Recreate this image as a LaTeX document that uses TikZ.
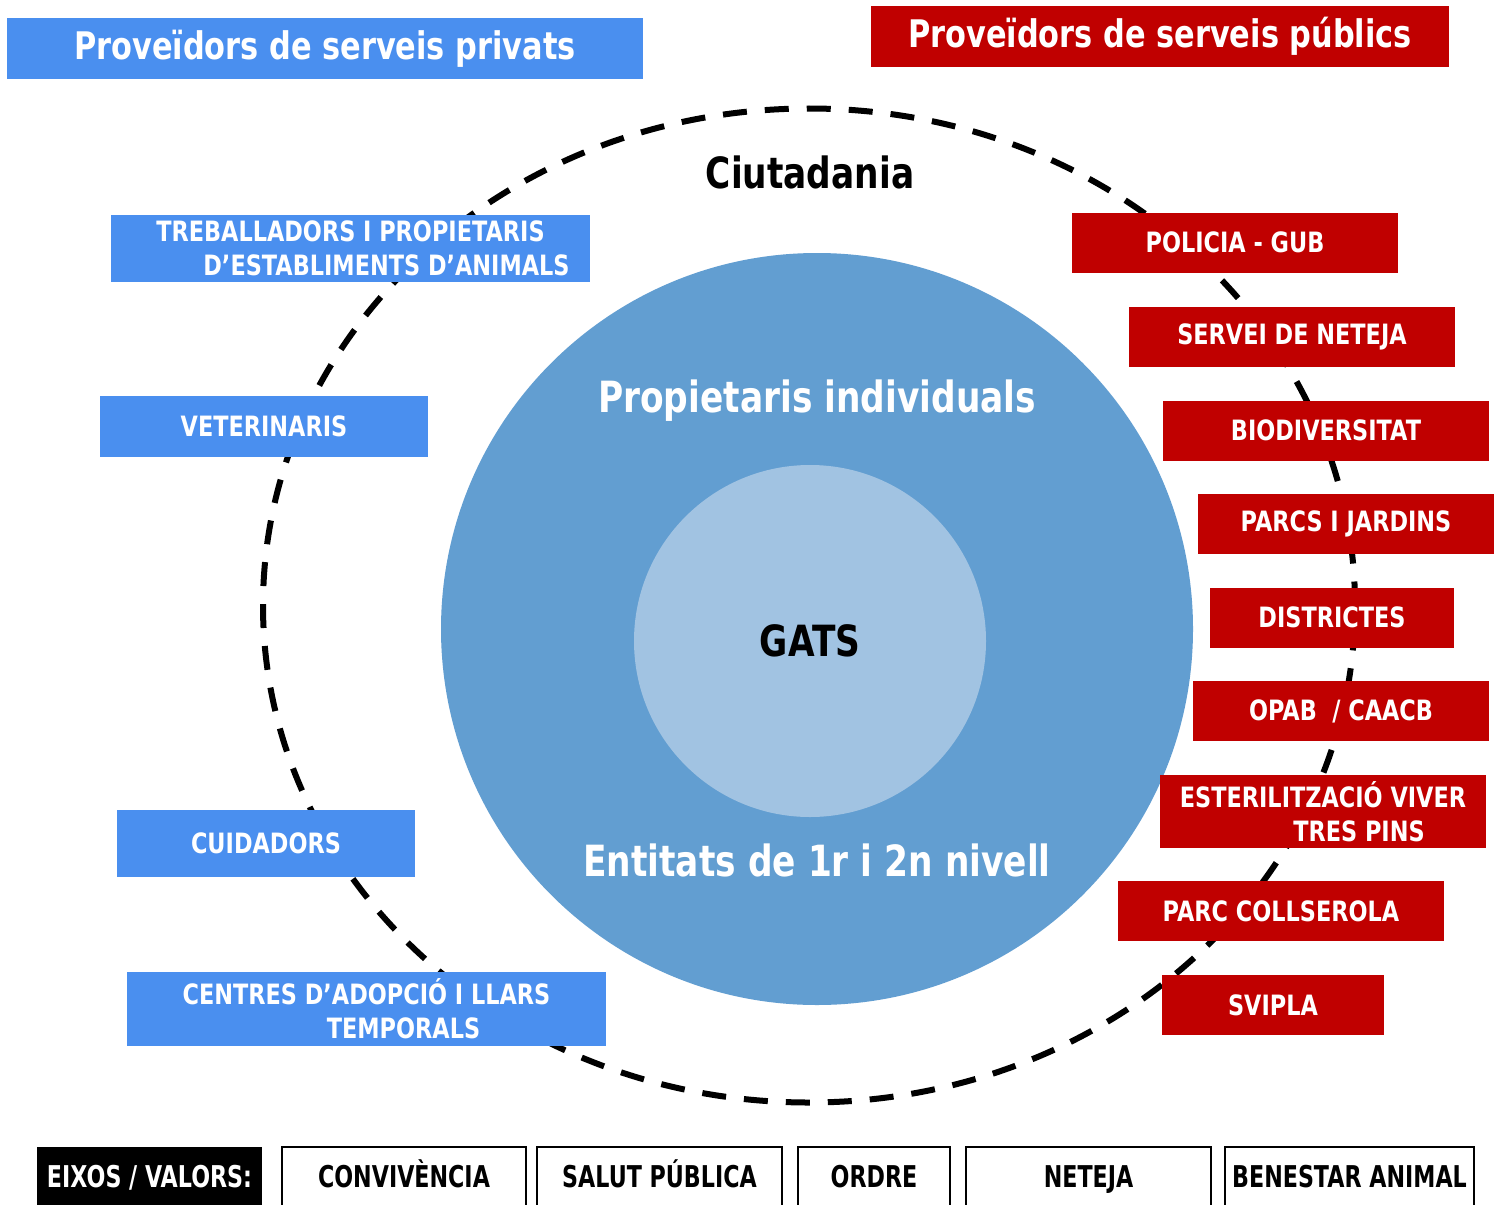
\documentclass[tikz,border=0pt]{standalone}
\usepackage{fontspec}
\setmainfont{DejaVu Sans}[FakeStretch=0.8]
\newfontfamily\axisfont{DejaVu Sans}[FakeStretch=0.74]
\definecolor{privblue}{RGB}{74,143,239}
\definecolor{pubred}{RGB}{192,0,0}
\definecolor{outerc}{RGB}{98,158,209}
\definecolor{innerc}{RGB}{161,195,226}
\tikzset{
  titlebox/.style={inner sep=0pt, text=white, font=\bfseries\fontsize{38}{44}\selectfont},
  privbox/.style={fill=privblue, inner sep=0pt, text=white, align=center, font=\bfseries\fontsize{28}{34}\selectfont},
  pubbox/.style={fill=pubred, inner sep=0pt, text=white, align=center, minimum width=326pt, minimum height=60pt, font=\bfseries\fontsize{28}{34}\selectfont},
  bigtxt/.style={inner sep=0pt, font=\bfseries\fontsize{43}{50}\selectfont},
  axisbase/.style={inner sep=0pt, minimum height=62pt, text height=23pt, text depth=5pt, font=\axisfont\bfseries\fontsize{30}{36}\selectfont},
  axisbox/.style={axisbase, draw=black, line width=2pt, fill=white},
  citdash/.style={line width=6pt, dash pattern=on 24pt off 18pt}
}
\begin{document}
\begin{tikzpicture}[x=1pt,y=-1pt]
\useasboundingbox (0,0) rectangle (1495,1204);
\fill[white] (0,0) rectangle (1495,1204);
% citizens dashed ellipse
\draw[citdash] (809,605.5) ellipse [x radius=546pt, y radius=497pt];
% circles
\node[circle, fill=outerc, minimum size=752pt, inner sep=0pt] (outer) at (817,629) {};
\node[circle, fill=innerc, minimum size=352pt, inner sep=0pt] (inner) at (810,641) {};
\node[bigtxt] (ciut) at (810,172) {Ciutadania};
\node[bigtxt, text=black] (gats) at (810,641) {GATS};
\node[bigtxt, text=white] (prop) at (817,401) {Propietaris individuals};
\node[bigtxt, text=white] (ent) at (817,860) {Entitats de 1r i 2n nivell};
% titles
\node[titlebox, fill=privblue, minimum width=636pt, minimum height=61pt] (privt) at (325,48.5) {Proveïdors de serveis privats};
\node[titlebox, fill=pubred, minimum width=578pt, minimum height=61pt] (pubt) at (1160,36.5) {Proveïdors de serveis públics};
% private providers
\node[privbox, minimum width=479pt, minimum height=67pt] (treb) at (350.5,248.5) {TREBALLADORS I PROPIETARIS\\\hspace*{72pt}D’ESTABLIMENTS D’ANIMALS};
\node[privbox, minimum width=328pt, minimum height=61pt] (vet) at (264,426.5) {VETERINARIS};
\node[privbox, minimum width=298pt, minimum height=67pt] (cuid) at (266,843.5) {CUIDADORS};
\node[privbox, minimum width=479pt, minimum height=74pt] (cent) at (366.5,1009) {CENTRES D’ADOPCIÓ I LLARS\\\hspace*{74pt}TEMPORALS};
% public providers
\node[pubbox] (pol) at (1235,242.5) {POLICIA - GUB};
\node[pubbox] (net) at (1292,336.5) {SERVEI DE NETEJA};
\node[pubbox] (bio) at (1326,430.5) {BIODIVERSITAT};
\node[pubbox, minimum width=296pt] (parcs) at (1346,524) {PARCS I JARDINS};
\node[pubbox, minimum width=244pt] (dist) at (1332,617.5) {DISTRICTES};
\node[pubbox, minimum width=296pt] (opab) at (1341,711) {OPAB\ \ / CAACB};
\node[pubbox, minimum height=73pt] (est) at (1323,811.5) {ESTERILITZACIÓ VIVER\\\hspace*{72pt}TRES PINS};
\node[pubbox] (coll) at (1281,911) {PARC COLLSEROLA};
\node[pubbox, minimum width=222pt] (svipla) at (1273,1005) {SVIPLA};
% axes / values
\node[axisbase, fill=black, text=white, minimum width=225pt] (eixos) at (149.5,1178) {EIXOS / VALORS:};
\node[axisbox, minimum width=244pt] (conv) at (404,1178) {CONVIVÈNCIA};
\node[axisbox, minimum width=245pt] (salut) at (659.5,1178) {SALUT PÚBLICA};
\node[axisbox, minimum width=152pt] (ordre) at (874,1178) {ORDRE};
\node[axisbox, minimum width=245pt] (neteja) at (1088.5,1178) {NETEJA};
\node[axisbox, minimum width=249pt] (benestar) at (1349.5,1178) {BENESTAR ANIMAL};
\end{tikzpicture}
\end{document}
